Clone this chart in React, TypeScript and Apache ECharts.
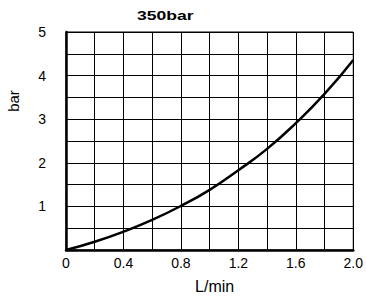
import React, { useEffect, useRef } from "react";
import * as echarts from "echarts";

const flow = [0, 0.2, 0.4, 0.6, 0.8, 1.0, 1.2, 1.4, 1.6, 1.8, 2.0];
const pressure = [0, 0.19, 0.42, 0.69, 1.01, 1.38, 1.83, 2.32, 2.91, 3.58, 4.36];
const titleText = "350bar";
const xName = "L/min";
const yName = "bar";

const FONT = "'Liberation Sans', Arial, sans-serif";

export default function App() {
  const ref = useRef<HTMLDivElement>(null);
  useEffect(() => {
    document.body.style.margin = "0";
    const chart = echarts.init(ref.current!, null, { renderer: "svg" });
    chart.setOption({
      animation: false,
      backgroundColor: "#fff",
      graphic: [
        {
          type: "text",
          x: 137,
          y: 15,
          scaleX: 1.35,
          style: {
            text: titleText,
            fontFamily: FONT,
            fontSize: 13,
            fontWeight: "bold",
            fill: "#000",
            align: "left",
            verticalAlign: "middle",
          },
        },
        {
          type: "text",
          x: 13,
          y: 101,
          rotation: Math.PI / 2,
          style: {
            text: yName,
            fontFamily: FONT,
            fontSize: 15,
            fill: "#000",
            align: "center",
            verticalAlign: "middle",
          },
        },
      ],
      grid: {
        left: 66,
        right: 8,
        top: 32,
        bottom: 50,
        show: true,
        borderColor: "#000",
        borderWidth: 1,
      },
      xAxis: {
        type: "value",
        min: 0,
        max: 2,
        interval: 0.2,
        name: xName,
        nameLocation: "middle",
        nameGap: 28,
        nameTextStyle: { fontFamily: FONT, fontSize: 16, color: "#000", padding: [0, 0, 0, 10] },
        axisLine: { show: true, onZero: false, lineStyle: { color: "#000", width: 2.5 } },
        axisTick: { show: false },
        axisLabel: {
          fontFamily: FONT,
          fontSize: 14,
          color: "#000",
          margin: 6,
          formatter: (v: number) => {
            const r = Math.round(v * 10);
            if (r % 4 !== 0) return "";
            if (r === 0) return "0";
            return v.toFixed(1);
          },
        },
        splitLine: { show: true, lineStyle: { color: "#000", width: 1 } },
      },
      yAxis: {
        type: "value",
        min: 0,
        max: 5,
        interval: 0.5,
        axisLine: { show: true, onZero: false, lineStyle: { color: "#000", width: 2.5 } },
        axisTick: { show: false },
        axisLabel: {
          fontFamily: FONT,
          fontSize: 14,
          color: "#000",
          margin: 20,
          formatter: (v: number) => {
            if (Math.abs(v - Math.round(v)) > 1e-6 || Math.round(v) === 0) return "";
            return String(Math.round(v));
          },
        },
        splitLine: { show: true, lineStyle: { color: "#000", width: 1 } },
      },
      series: [
        {
          type: "line",
          data: flow.map((x, i) => [x, pressure[i]]),
          smooth: true,
          showSymbol: false,
          lineStyle: { color: "#000", width: 2.5 },
        },
      ],
    });
    return () => chart.dispose();
  }, []);
  return <div ref={ref} style={{ width: 366, height: 300 }} />;
}
